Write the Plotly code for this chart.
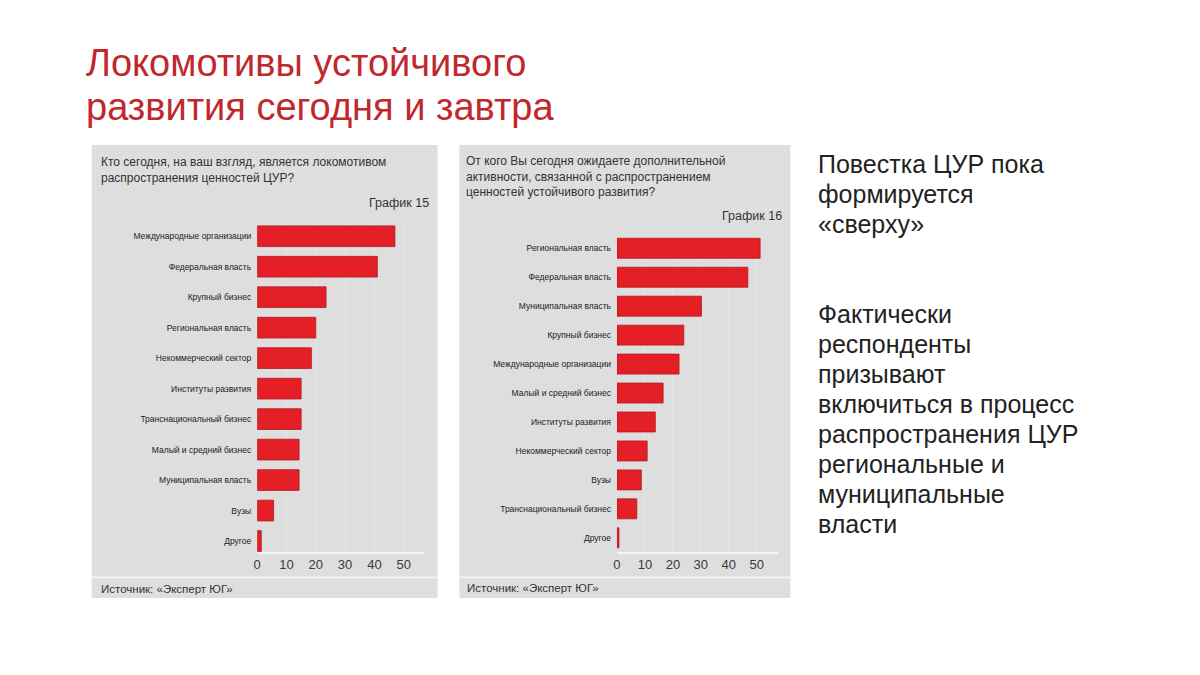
import plotly.graph_objects as go

W, H = 1200, 675
DX, DY = 10, 8  # page offset of the plot div inside the browser window

left_cats = ["Международные организации", "Федеральная власть", "Крупный бизнес",
             "Региональная власть", "Некоммерческий сектор", "Институты развития",
             "Транснациональный бизнес", "Малый и средний бизнес", "Муниципальная власть",
             "Вузы", "Другое"]
left_vals = [47, 41, 23.5, 20, 18.5, 15, 15, 14.3, 14.3, 5.6, 1.4]

right_cats = ["Региональная власть", "Федеральная власть", "Муниципальная власть",
              "Крупный бизнес", "Международные организации", "Малый и средний бизнес",
              "Институты развития", "Некоммерческий сектор", "Вузы",
              "Транснациональный бизнес", "Другое"]
right_vals = [51.2, 46.8, 30.2, 23.9, 22.2, 16.5, 13.7, 10.8, 8.7, 7.1, 0.7]

x_ticks = [0, 10, 20, 30, 40, 50]

title_lines = ["Локомотивы устойчивого", "развития сегодня и завтра"]
q_left = "Кто сегодня, на ваш взгляд, является локомотивом<br>распространения ценностей ЦУР?"
q_right = "От кого Вы сегодня ожидаете дополнительной<br>активности, связанной с распространением<br>ценностей устойчивого развития?"
chart_left = "График 15"
chart_right = "График 16"
source = "Источник: «Эксперт ЮГ»"
side1_lines = ["Повестка ЦУР пока", "формируется", "«сверху»"]
side2_lines = ["Фактически", "респонденты", "призывают", "включиться в процесс",
               "распространения ЦУР", "региональные и", "муниципальные", "власти"]

BAR = "#e41f26"
BAR_EDGE = "#b3191f"
PANEL = "#dedede"
SANS = "Liberation Sans, Arial, sans-serif"


def px(x):
    return (x - DX) / W


def py(y):
    return 1 - (y - DY) / H


fig = go.Figure()
fig.add_trace(go.Bar(x=left_vals, y=left_cats, orientation="h",
                     marker=dict(color=BAR, line=dict(color=BAR_EDGE, width=0.8)),
                     width=0.68, xaxis="x", yaxis="y", showlegend=False))
fig.add_trace(go.Bar(x=right_vals, y=right_cats, orientation="h",
                     marker=dict(color=BAR, line=dict(color=BAR_EDGE, width=0.8)),
                     width=0.69, xaxis="x2", yaxis="y2", showlegend=False))

xcommon = dict(tickvals=x_ticks, showgrid=True, gridcolor="#e5e5e5", gridwidth=1,
               zeroline=False, showline=True, linecolor="#f4f4f4", linewidth=1.5,
               ticks="", tickfont=dict(family=SANS, size=13, color="#3a3a3a"),
               fixedrange=True)
ycommon = dict(showgrid=False, zeroline=False, showline=False, ticks="",
               tickfont=dict(family=SANS, size=8.5, color="#222222"),
               ticklabelstandoff=5, type="category", fixedrange=True)

shapes = []
for x0, x1 in [(90, 437), (459, 791)]:
    shapes.append(dict(type="rect", xref="paper", yref="paper",
                       x0=px(x0), x1=px(x1), y0=py(598), y1=py(145),
                       fillcolor=PANEL, line=dict(width=0), layer="below"))
    shapes.append(dict(type="line", xref="paper", yref="paper",
                       x0=px(x0), x1=px(x1), y0=py(577.5), y1=py(577.5),
                       line=dict(color="#f2f2f2", width=2), layer="below"))

annotations = [
    dict(text=title_lines[0], x=px(82), y=py(63), xanchor="left", yanchor="middle",
         font=dict(family=SANS, size=38, color="#c0282d")),
    dict(text=title_lines[1], x=px(82), y=py(107), xanchor="left", yanchor="middle",
         font=dict(family=SANS, size=38, color="#c0282d")),
    dict(text=q_left, x=px(97), y=py(153), xanchor="left", yanchor="top",
         align="left", font=dict(family=SANS, size=12, color="#333333")),
    dict(text=chart_left, x=px(430), y=py(203), xanchor="right", yanchor="middle",
         font=dict(family=SANS, size=12.5, color="#333333")),
    dict(text=q_right, x=px(464), y=py(152), xanchor="left", yanchor="top",
         align="left", font=dict(family=SANS, size=12, color="#333333")),
    dict(text=chart_right, x=px(785), y=py(216), xanchor="right", yanchor="middle",
         font=dict(family=SANS, size=12.5, color="#333333")),
    dict(text=source, x=px(97), y=py(589), xanchor="left", yanchor="middle",
         font=dict(family=SANS, size=11.5, color="#333333")),
    dict(text=source, x=px(465), y=py(588), xanchor="left", yanchor="middle",
         font=dict(family=SANS, size=11.5, color="#333333")),
]
for i, line in enumerate(side1_lines):
    annotations.append(dict(text=line, x=px(817), y=py(164 + 30 * i),
                            xanchor="left", yanchor="middle",
                            font=dict(family=SANS, size=25, color="#222222")))
for i, line in enumerate(side2_lines):
    annotations.append(dict(text=line, x=px(817), y=py(314 + 30 * i),
                            xanchor="left", yanchor="middle",
                            font=dict(family=SANS, size=25, color="#222222")))
for a in annotations:
    a.update(xref="paper", yref="paper", showarrow=False)

fig.update_layout(
    width=W, height=H,
    margin=dict(l=0, r=0, t=0, b=0),
    paper_bgcolor="white", plot_bgcolor="rgba(0,0,0,0)",
    bargap=0.3,
    xaxis=dict(domain=[px(256), px(423)], range=[0, 56.8], anchor="y", **xcommon),
    yaxis=dict(domain=[py(552), py(221)], range=[10.36, -0.5], anchor="x", **ycommon),
    xaxis2=dict(domain=[px(617), px(780)], range=[0, 58.1], anchor="y2", **xcommon),
    yaxis2=dict(domain=[py(551.7), py(233.8)], range=[10.48, -0.5], anchor="x2", **ycommon),
    shapes=shapes,
    annotations=annotations,
)

fig.write_html("out.html")
